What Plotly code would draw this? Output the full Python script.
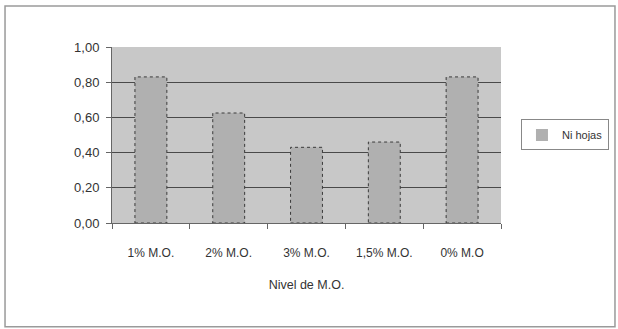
import plotly.graph_objects as go

categories = ["1% M.O.", "2% M.O.", "3% M.O.", "1,5% M.O.", "0% M.O"]
ni_hojas = [0.83, 0.625, 0.43, 0.46, 0.83]
y_ticks = [0.0, 0.2, 0.4, 0.6, 0.8, 1.0]

bar_width = 0.41
font = dict(family="Liberation Sans, Arial, sans-serif", size=12, color="#333333")

fig = go.Figure()
fig.add_trace(go.Bar(
    x=categories, y=ni_hojas, name="Ni hojas",
    width=bar_width,
    marker=dict(color="#b0b0b0", line=dict(width=0)),
))

# dotted outlines around each bar
for i, v in enumerate(ni_hojas):
    fig.add_shape(type="rect", xref="x", yref="y",
                  x0=i - bar_width / 2, x1=i + bar_width / 2, y0=0, y1=v,
                  line=dict(color="#3a3a3a", width=1, dash="dot"))

# outer frame of the chart
fig.add_shape(type="rect", xref="paper", yref="paper",
              x0=-0.275, x1=1.293, y0=-0.59, y1=1.233,
              line=dict(color="#9a9a9a", width=1.5), layer="below")

fig.update_layout(
    width=618, height=329,
    margin=dict(l=112, r=117, t=47, b=106, autoexpand=False),
    paper_bgcolor="white",
    plot_bgcolor="#c8c8c8",
    separators=",.",
    font=font,
    showlegend=True,
    legend=dict(xref="container", yref="container",
                x=0.843, y=0.59, xanchor="left", yanchor="middle",
                bordercolor="#888888", borderwidth=1, bgcolor="white",
                font=dict(size=11, color="#333333"),
                itemwidth=30, tracegroupgap=0),
    bargap=0.59,
)
fig.update_xaxes(
    showgrid=False, showline=True, linecolor="#666666", linewidth=1,
    ticks="outside", tickson="boundaries", ticklen=5, tickcolor="#666666",
    ticklabelstandoff=19,
    title=dict(text="Nivel de M.O.", font=dict(size=12.5, color="#333333"), standoff=20),
    tickfont=dict(size=12, color="#333333"),
)
fig.update_yaxes(
    range=[0, 1.0], tickvals=y_ticks, tickformat=".2f",
    showgrid=True, gridcolor="#4a4a4a", gridwidth=1,
    showline=True, linecolor="#666666", linewidth=1,
    ticks="outside", ticklen=5, tickcolor="#666666",
    ticklabelstandoff=4,
    tickfont=dict(size=13, color="#333333"),
    zeroline=False,
)

fig.write_html("out.html")
